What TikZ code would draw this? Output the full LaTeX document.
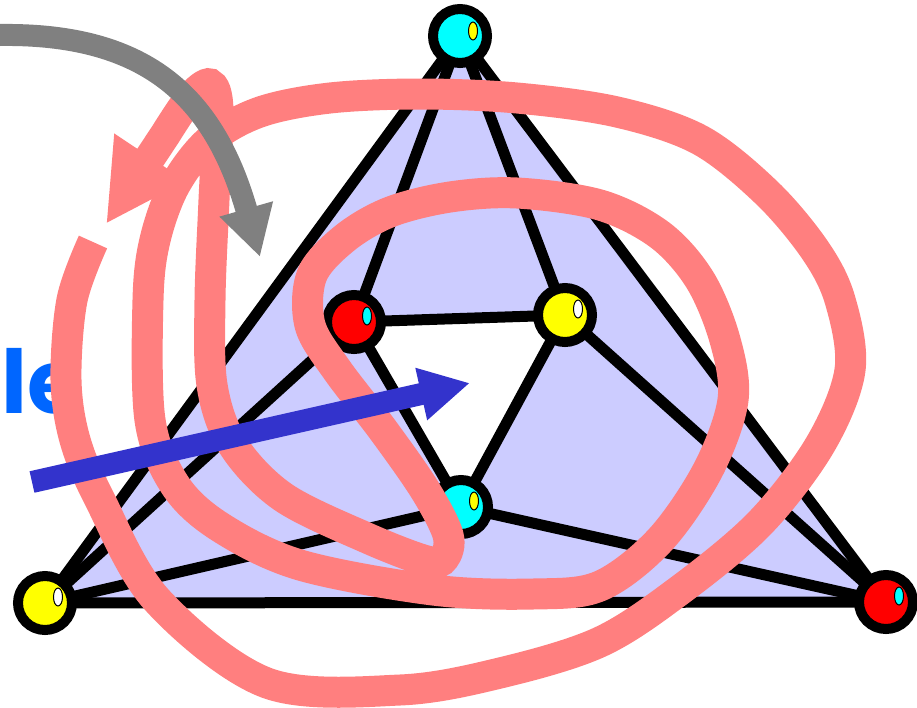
\documentclass[tikz,border=0pt]{standalone}
\usepackage{fontspec}
\newfontfamily\labelfont{Poppins}
\usepackage{tikz}
\usetikzlibrary{arrows.meta}
\definecolor{lavfill}{HTML}{CCCCFF}
\definecolor{loopred}{HTML}{FF7F7F}
\definecolor{arrgray}{HTML}{808080}
\definecolor{arrblue}{HTML}{3333CC}
\definecolor{textblue}{HTML}{0066FF}
\definecolor{ballcyan}{HTML}{00FFFF}
\definecolor{ballyellow}{HTML}{FFFF00}
\definecolor{ballred}{HTML}{FF0000}
\tikzset{
  vtxball/.style={circle,draw=black,line width=10pt,minimum size=54pt,inner sep=0pt},
  vtxshine/.style={draw=black,line width=1pt},
  octedge/.style={line width=11pt,color=black},
  loopline/.style={line width=31pt,color=loopred,-{Triangle[length=80pt,width=80pt]}},
  grayarr/.style={-{Triangle[length=50pt,width=52pt]},line width=22pt,color=arrgray},
  bluearr/.style={-{Triangle[length=50pt,width=50pt]},line width=22pt,color=arrblue},
  lelabel/.style={font=\labelfont\bfseries\fontsize{88}{88}\selectfont,text=textblue,inner sep=0pt,anchor=base west},
}
\begin{document}
\begin{tikzpicture}[x=1pt,y=-1pt]
  \useasboundingbox (0,0) rectangle (917,707);

  % octahedron corners
  \coordinate (pt) at (460,36);
  \coordinate (pl) at (45,603);
  \coordinate (pr) at (886,602);
  \coordinate (qr) at (354,322);
  \coordinate (qy) at (565,315);
  \coordinate (qc) at (461,507);

  \fill[lavfill] (pt) -- (pl) -- (pr) -- cycle;
  \fill[white] (qr) -- (qy) -- (qc) -- cycle;

  \draw[octedge] (pt) -- (pl);
  \draw[octedge] (pt) -- (pr);
  \draw[octedge] (pl) -- (pr);
  \draw[octedge] (qr) -- (qy);
  \draw[octedge] (qy) -- (qc);
  \draw[octedge] (qc) -- (qr);
  \draw[octedge] (pt) -- (qr);
  \draw[octedge] (pt) -- (qy);
  \draw[octedge] (pl) -- (qr);
  \draw[octedge] (pl) -- (qc);
  \draw[octedge] (pr) -- (qy);
  \draw[octedge] (pr) -- (qc);

  \node[vtxball,fill=ballcyan] (top) at (pt) {};
  \node[vtxball,fill=ballyellow] (left) at (pl) {};
  \node[vtxball,fill=ballred] (right) at (pr) {};
  \node[vtxball,fill=ballred] (ired) at (qr) {};
  \node[vtxball,fill=ballyellow] (iyel) at (qy) {};
  \node[vtxball,fill=ballcyan] (icyan) at (qc) {};

  \draw[vtxshine,fill=ballyellow] ([shift={(13,-5)}]top.center) ellipse [x radius=4.5pt,y radius=9pt];
  \draw[vtxshine,fill=white] ([shift={(13,-6)}]left.center) ellipse [x radius=4.5pt,y radius=9pt];
  \draw[vtxshine,fill=ballcyan] ([shift={(13,-6)}]right.center) ellipse [x radius=4.5pt,y radius=9pt];
  \draw[vtxshine,fill=ballcyan] ([shift={(13,-6)}]ired.center) ellipse [x radius=4.5pt,y radius=9pt];
  \draw[vtxshine,fill=white] ([shift={(13,-6)}]iyel.center) ellipse [x radius=4.5pt,y radius=9pt];
  \draw[vtxshine,fill=ballyellow] ([shift={(13,-6)}]icyan.center) ellipse [x radius=4.5pt,y radius=9pt];

  \node[lelabel] (le) at (1,413) {le};

  % the pink scribble
  \draw[loopline] plot[smooth,tension=0.55] coordinates {
    (93,242) (72,300) (66,380) (75,440) (100,500) (157,600) (267,683)
    (400,690) (500,673) (600,642) (680,590) (760,523) (820,445) (850,370)
    (840,300) (815,250) (767,193) (700,140) (617,112) (517,98) (420,94)
    (330,98) (260,112) (210,140) (175,185) (155,240) (148,300) (150,420)
    (175,485) (220,527) (300,565) (433,590) (533,594) (600,586) (660,540)
    (708,470) (733,400) (725,340) (700,280) (660,235) (600,205) (517,193)
    (450,197) (390,212) (345,238) (312,275) (310,325) (337,370) (383,430)
    (425,490) (448,535) (444,558) (427,561) (367,538) (283,497) (233,445)
    (212,385) (210,300) (214,200) (218,110) (210,84) (190,98) (165,135)}
    -- (106,224);

  \coordinate (grayfrom) at (0,35);
  \coordinate (grayto) at (260,257);
  \draw[grayarr] (grayfrom) .. controls (150,33) and (215,100) .. (grayto);

  \coordinate (bluefrom) at (32,482);
  \coordinate (blueto) at (470,383);
  \draw[bluearr] (bluefrom) -- (blueto);
\end{tikzpicture}
\end{document}
